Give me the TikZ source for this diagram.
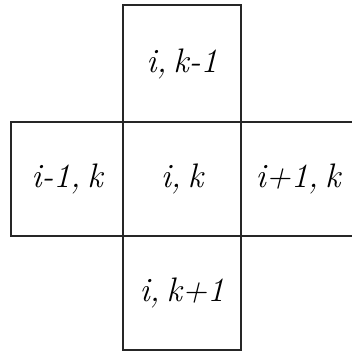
\documentclass[tikz,border=0pt]{standalone}
\usepackage{fontspec}
\newcommand{\csp}{\hspace{0.2em}}
\begin{document}
\begin{tikzpicture}[x=1pt,y=1pt,
  cell/.style={draw=black!85,line width=1.2pt,inner sep=0pt,font=\fontsize{34}{38}\selectfont\itshape}]
\useasboundingbox (0,0) rectangle (351,352);
\node[cell,minimum width=118pt,minimum height=117pt] (top) at (182,288.5) {i,\csp k-1};
\node[cell,minimum width=118pt,minimum height=114pt] (mid) at (182,173) {i,\csp k};
\node[cell,minimum width=112pt,minimum height=114pt] (left) at (67,173) {i-1,\csp k};
\node[cell,minimum width=114pt,minimum height=114pt] (right) at (298,173) {i+1,\csp k};
\node[cell,minimum width=118pt,minimum height=114pt] (bot) at (182,59) {i,\csp k+1};
\end{tikzpicture}
\end{document}
